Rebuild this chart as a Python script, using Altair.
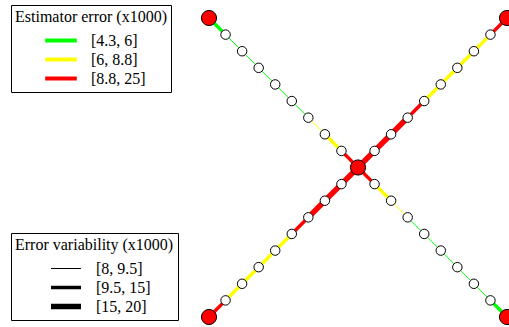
import altair as alt
import pandas as pd

# Estimator error bins (x1000) and their labels
ERR_BREAKS = [4.3, 6, 8.8, 25]
ERR_LABELS = ["[4.3, 6]", "[6, 8.8]", "[8.8, 25]"]
ERR_COLORS = ["#00ff00", "#ffff00", "#ff0000"]

# Error variability bins (x1000) and their labels
VAR_BREAKS = [8, 9.5, 15, 20]
VAR_LABELS = ["[8, 9.5]", "[9.5, 15]", "[15, 20]"]
VAR_WIDTHS = [1, 3.5, 5.5]

# Four arms of the cross; segments listed from the centre outwards
ARMS = ["NW", "NE", "SW", "SE"]
ARM_DIR = {"NW": (-1, 1), "NE": (1, 1), "SW": (-1, -1), "SE": (1, -1)}
N_SEG = 9

err_nw = [10.4, 7.9, 6.6, 5.8, 5.3, 4.9, 4.6, 4.5, 5.1]
err_ne = [21.5, 17.2, 13.4, 9.6, 8.4, 7.7, 7.2, 8.1, 9.9]
err_sw = [22.8, 18.1, 14.0, 10.2, 8.5, 7.6, 7.0, 7.9, 9.7]
err_se = [10.1, 7.6, 6.4, 5.7, 5.2, 4.8, 4.4, 4.6, 5.0]

var_nw = [12.8, 11.2, 9.1, 8.8, 8.5, 8.3, 8.6, 9.0, 10.6]
var_ne = [19.2, 17.6, 16.1, 13.9, 12.5, 11.8, 11.1, 10.7, 12.2]
var_sw = [19.6, 18.0, 16.4, 14.2, 12.7, 11.9, 11.3, 10.9, 12.4]
var_se = [12.5, 11.0, 9.2, 8.9, 8.6, 8.2, 8.4, 8.9, 10.3]

ERR = {"NW": err_nw, "NE": err_ne, "SW": err_sw, "SE": err_se}
VAR = {"NW": var_nw, "NE": var_ne, "SW": var_sw, "SE": var_se}

# Segment table: each arm runs from the hub (0, 0) to its corner node
edges = []
for arm in ARMS:
    dx, dy = ARM_DIR[arm]
    for i in range(N_SEG):
        f0, f1 = i / N_SEG, (i + 1) / N_SEG
        edges.append({
            "arm": arm,
            "x": dx * f0, "y": dy * f0,
            "x2": dx * f1, "y2": dy * f1,
            "error": ERR[arm][i],
            "variability": VAR[arm][i],
        })
edges = pd.DataFrame(edges)
edges["err_bin"] = pd.cut(edges["error"], bins=ERR_BREAKS, labels=ERR_LABELS,
                          include_lowest=True).astype(str)
edges["var_bin"] = pd.cut(edges["variability"], bins=VAR_BREAKS, labels=VAR_LABELS,
                          include_lowest=True).astype(str)

# Node table: hub and corners are terminals, the rest are intermediate stops
nodes = [{"x": 0.0, "y": 0.0, "kind": "terminal"}]
for arm in ARMS:
    dx, dy = ARM_DIR[arm]
    for k in range(1, N_SEG + 1):
        f = k / N_SEG
        nodes.append({"x": dx * f, "y": dy * f,
                      "kind": "terminal" if k == N_SEG else "stop"})
nodes = pd.DataFrame(nodes)

FONT = "Liberation Serif"
xs = alt.Scale(domain=[-1, 1], range=[209, 507])
ys = alt.Scale(domain=[-1, 1], range=[317, 18])

legend_common = dict(
    orient="none",
    strokeColor="black",
    fillColor="white",
    padding=4,
    cornerRadius=0,
    symbolType="stroke",
    clipHeight=19,
    rowPadding=0,
    titleFont=FONT, titleFontSize=16, titleFontWeight="normal", titleColor="black",
    titlePadding=6,
    labelFont=FONT, labelFontSize=16, labelColor="black",
    labelOffset=12,
)

segments = alt.Chart(edges).mark_rule(strokeCap="butt").encode(
    x=alt.X("x:Q", scale=xs, axis=None),
    y=alt.Y("y:Q", scale=ys, axis=None),
    x2="x2:Q",
    y2="y2:Q",
    color=alt.Color(
        "err_bin:N",
        scale=alt.Scale(domain=ERR_LABELS, range=ERR_COLORS),
        legend=alt.Legend(
            title="Estimator error (x1000)",
            legendX=11, legendY=5,
            symbolSize=1000, symbolStrokeWidth=4, symbolOffset=28,
            **legend_common,
        ),
    ),
    strokeWidth=alt.StrokeWidth(
        "var_bin:N",
        scale=alt.Scale(type="ordinal", domain=VAR_LABELS, range=VAR_WIDTHS),
        legend=alt.Legend(
            title="Error variability (x1000)",
            legendX=11, legendY=233,
            symbolSize=900, symbolStrokeColor="black", symbolOffset=33,
            **legend_common,
        ),
    ),
)

stops = alt.Chart(nodes).transform_filter(alt.datum.kind == "stop").mark_point(
    shape="circle", filled=True, fill="white", stroke="black",
    strokeWidth=1, opacity=1, size=90,
).encode(
    x=alt.X("x:Q", scale=xs, axis=None),
    y=alt.Y("y:Q", scale=ys, axis=None),
)

terminals = alt.Chart(nodes).transform_filter(alt.datum.kind == "terminal").mark_point(
    shape="circle", filled=True, fill="#ff0000", stroke="black",
    strokeWidth=1, opacity=1, size=230,
).encode(
    x=alt.X("x:Q", scale=xs, axis=None),
    y=alt.Y("y:Q", scale=ys, axis=None),
)

chart = alt.layer(segments, stops, terminals).properties(
    width=509, height=327,
    autosize=alt.AutoSizeParams(type="none"),
    padding=0,
).configure_view(stroke=None)

chart.save("out.html", embed_options={"renderer": "svg", "actions": False})
